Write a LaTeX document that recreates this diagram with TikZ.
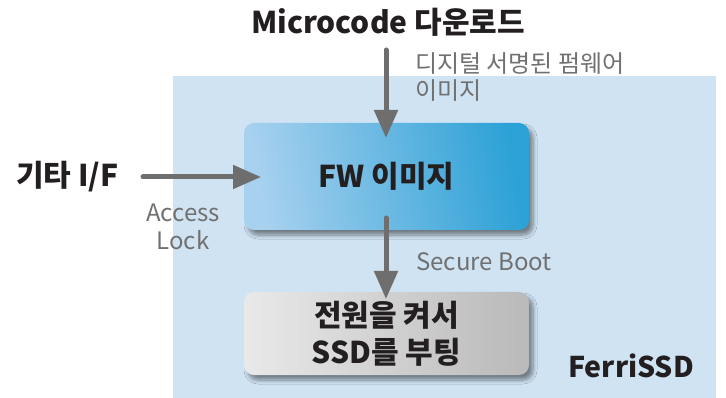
\documentclass[tikz,border=0pt]{standalone}
\usepackage{fontspec}
\setmainfont{Noto Sans CJK KR}
\usetikzlibrary{arrows.meta,shadows.blur}
\definecolor{bgblue}{HTML}{CFE3F3}
\definecolor{arrgray}{HTML}{6E6E6E}
\definecolor{lblgray}{HTML}{707070}
\definecolor{fwleft}{HTML}{A8D1EF}
\definecolor{fwright}{HTML}{2CA1D6}
\definecolor{bootleft}{HTML}{E9E9E9}
\definecolor{bootright}{HTML}{B9B9B9}
\definecolor{txtblack}{HTML}{231F20}
\tikzset{
  flow/.style={draw=arrgray, line width=5pt, line cap=round, -{Triangle[width=23pt,length=28pt]}},
  bigtxt/.style={font=\bfseries\fontsize{30}{36}\selectfont, text=txtblack, inner sep=0pt},
  lbl/.style={font=\fontsize{24}{28}\selectfont, text=lblgray, inner sep=0pt},
  boxbase/.style={rounded corners=10pt, minimum width=285pt, inner sep=0pt,
    blur shadow={shadow xshift=4pt, shadow yshift=-5pt, shadow blur steps=8, shadow blur radius=4pt, shadow opacity=45}},
}
\begin{document}
\begin{tikzpicture}[x=1pt,y=-1pt]
\useasboundingbox (0,0) rectangle (726,398);
\fill[bgblue] (173,76) rectangle (716,398);
\node[boxbase, minimum height=107pt, left color=fwleft, right color=fwright, shading angle=100] (fw) at (386.5,176.5) {};
\node[bigtxt] (fwt) at (fw.center) {FW 이미지};
\node[boxbase, minimum height=83pt, left color=bootleft, right color=bootright] (boot) at (386.5,333.5) {};
\node[bigtxt, align=center, font=\bfseries\fontsize{30}{37}\selectfont] (boott) at (boot.center) {전원을 켜서\\SSD를 부팅};
\node[bigtxt] (mc) at (388,22) {Microcode 다운로드};
\node[bigtxt, anchor=west] (etc) at (16,177) {기타 I/F};
\node[bigtxt, anchor=west, font=\bfseries\fontsize{28.5}{34}\selectfont] (ferri) at (568,366) {FerriSSD};
\coordinate (mcs) at (386,50);
\coordinate (fwtop) at (386,138);
\coordinate (etcs) at (143,177);
\coordinate (fwleftpt) at (261,177);
\coordinate (fwbot) at (386,218);
\coordinate (boottop) at (386,299);
\draw[flow] (mcs) -- (fwtop);
\draw[flow] (etcs) -- (fwleftpt);
\draw[flow] (fwbot) -- (boottop);
\node[lbl, anchor=west] (sig1) at (415,64) {디지털 서명된 펌웨어};
\node[lbl, anchor=west] (sig2) at (415,91) {이미지};
\node[lbl] (acc) at (183,213) {Access};
\node[lbl] (lock) at (183,240) {Lock};
\node[lbl, anchor=west] (sb) at (416,262) {Secure Boot};
\end{tikzpicture}
\end{document}
